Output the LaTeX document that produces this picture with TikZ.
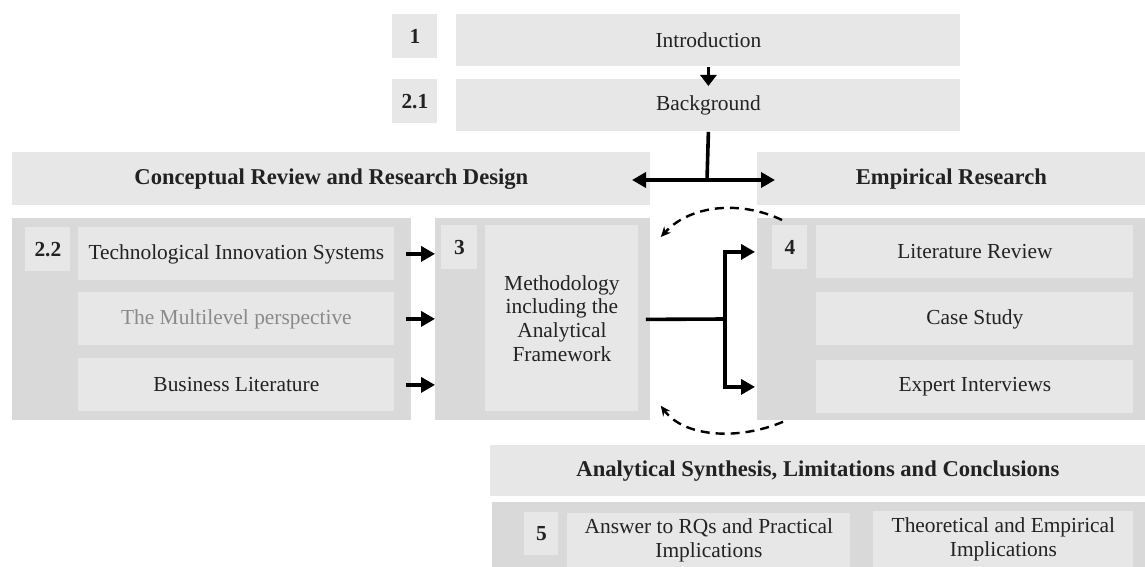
\documentclass[tikz,border=0pt]{standalone}
\usepackage{fontspec}
\setmainfont{Liberation Serif}
\usetikzlibrary{arrows.meta}
\definecolor{boxgray}{HTML}{E7E7E7}
\definecolor{groupgray}{HTML}{D9D9D9}
\definecolor{inkgray}{HTML}{222222}
\definecolor{fadedgray}{HTML}{8A8A8A}
\tikzset{
  header/.style={fill=boxgray, anchor=north west, inner sep=0pt, font=\fontsize{11.3}{13}\selectfont\bfseries, text=inkgray},
  item/.style={fill=boxgray, anchor=north west, inner sep=0pt, align=center, text=inkgray},
  group/.style={fill=groupgray, anchor=north west, inner sep=0pt},
  numbox/.style={fill=boxgray, anchor=north west, inner sep=0pt, font=\fontsize{10.7}{12}\selectfont\bfseries, text=inkgray},
  flow/.style={line width=1.8pt, -{Triangle[length=7pt,width=7.5pt]}},
  flowline/.style={line width=1.8pt},
  feedback/.style={line width=1.2pt, dash pattern=on 4.5pt off 3pt, -{Stealth[length=5pt,width=4.5pt]}}
}
\begin{document}
\begin{tikzpicture}[x=0.5pt, y=-0.5pt, font=\fontsize{10.7}{11.8}\selectfont]
  \useasboundingbox (0,0) rectangle (1145,567);

  % top: introduction and background
  \node[numbox, minimum width=22.5pt, minimum height=22pt] (n1) at (392,14) {1};
  \node[item, minimum width=252pt, minimum height=26pt] (intro) at (456,14) {Introduction};
  \node[numbox, minimum width=22.5pt, minimum height=22pt] (n21) at (392,79) {2.1};
  \node[item, minimum width=252pt, minimum height=26pt] (bg) at (456,79) {Background};

  % section headers
  \node[header, minimum width=319pt, minimum height=26.5pt] (concept) at (12,152) {Conceptual Review and Research Design};
  \node[header, minimum width=194pt, minimum height=26.5pt] (empir) at (757,152) {Empirical Research};

  % conceptual review
  \node[group, minimum width=199.5pt, minimum height=101pt] (grp22) at (12,218) {};
  \node[numbox, minimum width=22.5pt, minimum height=22pt] (n22) at (25,227) {2.2};
  \node[item, minimum width=158pt, minimum height=26.5pt] (tis) at (78,227) {Technological Innovation Systems};
  \node[item, minimum width=158pt, minimum height=26.5pt, text=fadedgray] (mlp) at (78,292) {The Multilevel perspective};
  \node[item, minimum width=158pt, minimum height=26.5pt] (bus) at (78,358) {Business Literature};

  % methodology
  \node[group, minimum width=107.5pt, minimum height=101pt] (grp3) at (435,218) {};
  \node[numbox, minimum width=18pt, minimum height=22pt] (n3) at (441,225) {3};
  \node[item, minimum width=76.5pt, minimum height=93pt] (meth) at (485,225) {Methodology\\including the\\Analytical\\Framework};

  % empirical research
  \node[group, minimum width=194pt, minimum height=101pt] (grp4) at (757,218) {};
  \node[numbox, minimum width=17.5pt, minimum height=22pt] (n4) at (772,225) {4};
  \node[item, minimum width=158.5pt, minimum height=26.5pt] (lit) at (816,225) {Literature Review};
  \node[item, minimum width=158.5pt, minimum height=26.5pt] (case) at (816,292) {Case Study};
  \node[item, minimum width=158.5pt, minimum height=26.5pt] (expert) at (816,360) {Expert Interviews};

  % synthesis
  \node[header, minimum width=327.5pt, minimum height=25.5pt] (synth) at (490,445) {Analytical Synthesis, Limitations and Conclusions};
  \node[group, minimum width=326.5pt, minimum height=33pt] (grp5) at (492,502) {};
  \node[numbox, minimum width=17pt, minimum height=21.5pt] (n5) at (524,512) {5};
  \node[item, minimum width=141.5pt, minimum height=27pt] (answer) at (567,513) {Answer to RQs and Practical\\Implications};
  \node[item, minimum width=130pt, minimum height=28pt] (theory) at (873,511) {Theoretical and Empirical\\Implications};

  % connectors
  \coordinate (split) at (707,180);
  \coordinate (splitl) at (632,180);
  \coordinate (splitr) at (775,180);
  \coordinate (fork) at (725,319);
  \draw[flow, -{Triangle[length=5.5pt,width=8pt]}] (intro.south) -- ([yshift=-3.5pt]bg.north);
  \draw[flowline] (bg.south) -- (split);
  \draw[flow] (split) -- (splitl);
  \draw[flow] (split) -- (splitr);

  \draw[flow] ([xshift=5.5pt]tis.east) -- (tis.east -| grp3.west);
  \draw[flow] ([xshift=5.5pt]mlp.east) -- (mlp.east -| grp3.west);
  \draw[flow] ([xshift=5.5pt]bus.east) -- (bus.east -| grp3.west);

  \draw[flowline] ([xshift=-2.5pt]grp3.east) -- (fork);
  \draw[flow] (fork) |- ([xshift=-1pt]lit.west -| grp4.west);
  \draw[flow] (fork) |- ([xshift=-1pt]expert.west -| grp4.west);

  \draw[feedback] ([xshift=12.5pt, yshift=-1pt]grp4.north west) .. controls (740,200) and (690,205) .. ([xshift=5pt, yshift=-9.5pt]grp3.north east);
  \draw[feedback] ([xshift=13pt, yshift=-0.5pt]grp4.south west) .. controls (740,440) and (685,438) .. ([xshift=5pt, yshift=7.5pt]grp3.south east);
\end{tikzpicture}
\end{document}
